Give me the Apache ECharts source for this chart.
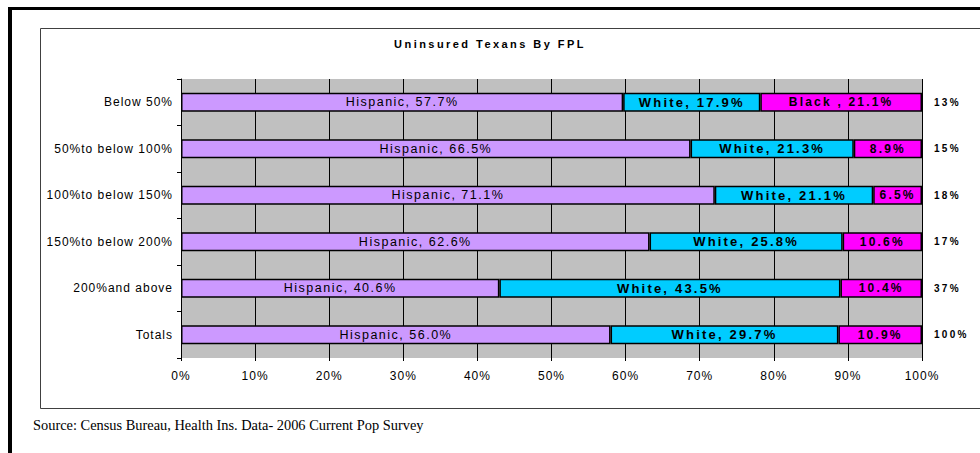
<!DOCTYPE html>
<html>
<head>
<meta charset="utf-8">
<script src="https://cdn.jsdelivr.net/npm/echarts@6/dist/echarts.min.js"></script>
<style>
  html, body { margin: 0; padding: 0; background: #fff; }
  #chart { width: 980px; height: 453px; }
  /* Excel-style letter spacing on the svg text */
  #chart text { letter-spacing: 1px; }
  #chart text[style*="12.5px"] { letter-spacing: 1.5px; }
  #chart text[style*="bold"][style*="13px"] { letter-spacing: 2.2px; }
  #chart text[style*="bold"][style*="12px"] { letter-spacing: 2.2px; }
  #chart text[style*="bold"][style*="11px"] { letter-spacing: 2.45px; }
  #chart text[style*="bold"][style*="10px"] { letter-spacing: 2.3px; }
  #chart text[style*="Serif"] { letter-spacing: 0; }
</style>
</head>
<body>
<div id="chart"></div>
<script>
const categories = ["Below 50%", "50%to below 100%", "100%to below 150%", "150%to below 200%", "200%and above", "Totals"];
const hispanic = [57.7, 66.5, 71.1, 62.6, 40.6, 56.0];
const white = [17.9, 21.3, 21.1, 25.8, 43.5, 29.7];
const black = [21.1, 8.9, 6.5, 10.6, 10.4, 10.9];
const share_of_uninsured = ["13%", "15%", "18%", "17%", "37%", "100%"];
const x_ticks = [0, 10, 20, 30, 40, 50, 60, 70, 80, 90, 100];

const SANS = "Liberation Sans";

// 100% stacked: each row is scaled to its own total, like Excel does
const row_total = categories.map((_, i) => hispanic[i] + white[i] + black[i]);
const to_pct = (arr) => arr.map((v, i) => v / row_total[i] * 100);

const bar_style = (color) => ({ color, borderColor: "#000", borderWidth: 1.5 });

const chart = echarts.init(document.getElementById("chart"), null, { renderer: "svg" });

chart.setOption({
    animation: false,
    backgroundColor: "#fff",
    title: {
        text: "Uninsured Texans By FPL",
        left: "center",
        top: 33,
        textStyle: { fontFamily: SANS, fontSize: 11, fontWeight: "bold", color: "#000" }
    },
    graphic: [
        { type: "rect", shape: { x: 8, y: 7, width: 980, height: 3 }, style: { fill: "#000" } },
        { type: "rect", shape: { x: 8, y: 7, width: 4, height: 460 }, style: { fill: "#000" } },
        { type: "rect", shape: { x: 40.5, y: 28.5, width: 1000, height: 380 }, style: { fill: "none", stroke: "#404040", lineWidth: 1 } },
        {
            type: "text", left: 33, top: 418,
            style: { text: "Source: Census Bureau, Health Ins. Data- 2006 Current Pop Survey", font: "14.4px Liberation Serif", fill: "#000" }
        }
    ],
    grid: {
        left: 181, right: 58, top: 79, height: 279,
        show: true, backgroundColor: "#C0C0C0", borderWidth: 0
    },
    xAxis: {
        type: "value", min: x_ticks[0], max: x_ticks[x_ticks.length - 1], interval: 10,
        axisLine: { show: false },
        axisTick: { show: true, length: 3, lineStyle: { color: "#000" } },
        splitLine: { show: true, lineStyle: { color: "#000", width: 1 } },
        axisLabel: { formatter: "{value}%", margin: 12, color: "#000", fontFamily: SANS, fontSize: 12 }
    },
    yAxis: [
        {
            type: "category", data: categories, inverse: true,
            axisLine: { show: true, lineStyle: { color: "#000", width: 1 } },
            axisTick: { show: true, length: 4, lineStyle: { color: "#000" } },
            axisLabel: { margin: 8, color: "#000", fontFamily: SANS, fontSize: 12 }
        },
        {
            type: "category", data: categories, inverse: true, position: "right",
            axisLine: { show: false }, axisTick: { show: false },
            axisLabel: {
                margin: 12, color: "#000", fontFamily: SANS, fontSize: 10, fontWeight: "bold",
                formatter: (v, i) => share_of_uninsured[i]
            }
        }
    ],
    series: [
        {
            name: "Hispanic", type: "bar", stack: "all", barWidth: 19,
            data: to_pct(hispanic), itemStyle: bar_style("#CC99FF"),
            label: {
                show: true, position: "inside", color: "#000", fontFamily: SANS, fontSize: 12.5,
                formatter: (p) => "Hispanic, " + hispanic[p.dataIndex].toFixed(1) + "%"
            }
        },
        {
            name: "White", type: "bar", stack: "all", barWidth: 19,
            data: to_pct(white), itemStyle: bar_style("#00CCFF"),
            label: {
                show: true, position: "inside", color: "#000", fontFamily: SANS, fontSize: 13, fontWeight: "bold",
                formatter: (p) => "White, " + white[p.dataIndex].toFixed(1) + "%"
            }
        },
        {
            name: "Black", type: "bar", stack: "all", barWidth: 19,
            data: to_pct(black), itemStyle: bar_style("#FF00FF"),
            label: {
                show: true, position: "inside", color: "#000", fontFamily: SANS, fontSize: 12, fontWeight: "bold",
                formatter: (p) => (p.dataIndex === 0 ? "Black , " : "") + black[p.dataIndex].toFixed(1) + "%"
            }
        }
    ]
});
</script>
</body>
</html>
